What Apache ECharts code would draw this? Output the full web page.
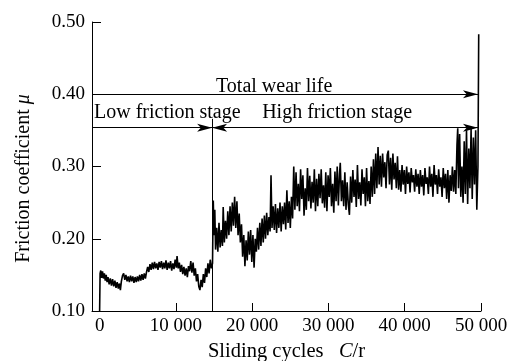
<!DOCTYPE html>
<html>
<head>
<meta charset="utf-8">
<script src="https://cdn.jsdelivr.net/npm/echarts@6/dist/echarts.min.js"></script>
<style>
  html, body { margin: 0; padding: 0; background: #fff; }
  #chart { width: 514px; height: 361px; }
</style>
</head>
<body>
<div id="chart"></div>
<script>
// Friction coefficient trace, [sliding cycles, mu], low friction stage
const lowStageTrace = [
  [0,0.100],[60,0.152],[150,0.156],[260,0.146],[380,0.155],[500,0.145],[620,0.152],[740,0.142],[860,0.150],[980,0.140],
  [1100,0.147],[1250,0.137],[1400,0.145],[1550,0.135],[1700,0.144],[1850,0.134],[2000,0.142],[2150,0.132],[2300,0.140],[2450,0.131],[2600,0.138],[2720,0.129],[2850,0.141],
  [3000,0.149],[3150,0.152],[3300,0.143],[3450,0.150],[3600,0.141],[3750,0.148],[3900,0.140],[4050,0.149],[4200,0.141],[4350,0.148],[4500,0.139],[4650,0.147],[4800,0.140],[4950,0.148],[5100,0.141],[5250,0.150],[5400,0.142],[5550,0.151],[5700,0.143],[5850,0.152],[6000,0.145],
  [6150,0.154],[6300,0.161],[6450,0.154],[6600,0.165],[6750,0.157],
  [6900,0.167],[7050,0.158],[7200,0.168],[7350,0.159],[7500,0.166],[7650,0.157],[7800,0.168],[7950,0.160],[8100,0.169],[8250,0.158],[8400,0.167],[8550,0.159],[8700,0.170],[8850,0.157],[9000,0.167],[9150,0.159],[9300,0.169],[9450,0.156],[9600,0.166],[9750,0.158],[9900,0.171],[10050,0.160],[10150,0.176],[10300,0.159],[10450,0.167],
  [10600,0.154],[10750,0.164],[10900,0.151],[11050,0.161],[11200,0.149],[11350,0.159],[11500,0.147],[11650,0.162],
  [11800,0.155],[11950,0.169],[12100,0.153],[12250,0.167],[12400,0.149],
  [12550,0.159],[12700,0.141],[12850,0.151],[13000,0.134],[13150,0.129],[13300,0.143],[13450,0.133],[13600,0.151],[13750,0.139],
  [13900,0.159],[14050,0.147],[14200,0.166],[14350,0.152],[14500,0.171],[14650,0.159]
];

// Friction coefficient trace, [sliding cycles, mu], high friction stage
const highStageTrace = [
  [14800,0.166],[14900,0.253],[15000,0.205],[15100,0.240],[15200,0.185],
  [15350,0.215],[15500,0.182],[15650,0.222],[15800,0.188],[15950,0.212],[16100,0.190],[16200,0.244],[16350,0.195],[16500,0.225],
  [16650,0.200],[16800,0.238],[16950,0.205],[17100,0.245],[17250,0.210],[17400,0.250],[17550,0.218],[17700,0.258],[17850,0.215],[18000,0.252],[18150,0.205],[18300,0.235],
  [18450,0.195],[18600,0.220],[18750,0.175],[18900,0.205],[19050,0.162],[19200,0.198],[19350,0.170],[19500,0.210],[19650,0.178],[19800,0.212],[19950,0.168],[20100,0.205],[20250,0.160],[20400,0.200],
  [20550,0.182],[20700,0.215],[20850,0.185],[21000,0.222],[21150,0.190],[21300,0.228],[21450,0.195],[21600,0.232],[21750,0.200],[21900,0.236],[22050,0.205],[22200,0.230],
  [22350,0.210],[22470,0.288],[22600,0.215],
  [22750,0.245],[22900,0.212],[23050,0.248],[23200,0.208],[23350,0.242],[23500,0.215],[23650,0.250],[23800,0.210],[23950,0.245],[24100,0.220],[24250,0.250],[24400,0.213],[24550,0.267],[24700,0.222],[24850,0.252],
  [25000,0.215],[25150,0.258],[25300,0.228],[25450,0.300],[25600,0.240],
  [25750,0.292],[25900,0.245],[26050,0.276],[26200,0.238],[26350,0.296],[26500,0.255],[26650,0.288],[26800,0.232],[26950,0.270],[27100,0.240],[27250,0.298],[27400,0.252],[27550,0.287],[27700,0.242],[27850,0.279],[28000,0.250],[28150,0.296],[28300,0.238],[28450,0.283],[28600,0.245],[28750,0.290],[28900,0.256],[29050,0.296],[29200,0.249],[29350,0.274],[29500,0.243],[29650,0.292],[29800,0.238],[29950,0.288],[30100,0.258],[30250,0.298],[30400,0.245],[30550,0.276],[30700,0.236],[30850,0.293],[31000,0.252],[31150,0.300],[31300,0.246],
  [31450,0.290],[31550,0.305],[31700,0.252],[31850,0.281],[32000,0.245],[32150,0.292],[32300,0.240],[32450,0.278],[32600,0.248],[32750,0.233],[32900,0.286],
  [33050,0.250],[33200,0.295],[33350,0.258],[33500,0.282],[33650,0.244],[33800,0.302],[33950,0.255],[34100,0.278],[34250,0.246],[34400,0.296],[34550,0.262],[34700,0.285],[34850,0.245],[35000,0.298],[35150,0.252],[35300,0.280],[35450,0.248],
  [35600,0.300],[35750,0.258],[35900,0.310],[36050,0.262],[36200,0.318],[36350,0.270],[36500,0.327],[36650,0.275],
  [36800,0.315],[36950,0.272],[37100,0.318],[37250,0.285],[37400,0.306],[37550,0.270],[37700,0.316],[37850,0.322],[38000,0.275],[38150,0.312],[38300,0.268],[38450,0.318],[38600,0.282],[38750,0.305],[38900,0.270],[39050,0.314],[39200,0.268],[39350,0.295],
  [39500,0.265],[39650,0.302],[39800,0.275],[39950,0.295],[40100,0.262],[40250,0.300],[40400,0.276],[40550,0.292],[40700,0.264],[40850,0.298],[41000,0.278],[41150,0.288],[41300,0.265],[41450,0.296],[41600,0.272],[41750,0.290],[41900,0.262],
  [42050,0.295],[42200,0.272],[42350,0.288],[42500,0.260],[42650,0.298],[42800,0.276],[42950,0.285],[43100,0.262],[43250,0.300],[43400,0.272],[43550,0.290],[43700,0.258],[43850,0.302],[44000,0.275],[44150,0.288],[44300,0.262],[44450,0.296],[44600,0.272],[44750,0.285],[44900,0.258],[45050,0.298],[45200,0.270],[45350,0.290],[45500,0.255],[45650,0.295],[45800,0.250],[45950,0.288],[46100,0.266],[46250,0.300],[46400,0.265],
  [46550,0.295],[46700,0.262],[46850,0.330],[46950,0.353],[47050,0.270],[47200,0.345],[47350,0.258],[47500,0.300],[47650,0.250],[47800,0.335],[47950,0.262],[48100,0.350],[48250,0.248],[48400,0.325],[48550,0.270],[48700,0.352],[48850,0.255],[49000,0.340],[49150,0.275],[49300,0.350],[49450,0.240],[49600,0.300],[49700,0.483]
];

// Axis ranges and tick values
const xRange = [-1000, 50000];
const xTickValues = [10000, 20000, 30000, 40000, 50000];
const xLabelValues = [0, 10000, 20000, 30000, 40000, 50000];
const yRange = [0.10, 0.50];
const yStep = 0.10;

// Stage annotations (cycles / mu)
const stageBoundary = 14750;
const wearLifeEnd = 49600;
const totalLifeLevel = 0.40;
const stageLevel = 0.3537;
const boundaryTop = 0.366;

const FONT = '"Liberation Serif", "Times New Roman", serif';
const chart = echarts.init(document.getElementById('chart'), null, { renderer: 'canvas' });

const arrowEnd = { symbol: 'arrow', symbolSize: [6, 15] };

chart.setOption({
  animation: false,
  backgroundColor: '#ffffff',
  grid: { left: 92, right: 33, top: 22, bottom: 50, outerBoundsMode: 'none', containLabel: false },
  textStyle: { fontFamily: FONT, color: '#000' },
  xAxis: {
    type: 'value',
    min: xRange[0],
    max: xRange[1],
    name: 'Sliding cycles   {i|C}/r',
    nameLocation: 'middle',
    nameGap: 29,
    nameTextStyle: {
      fontFamily: FONT, fontSize: 20.5, color: '#000',
      rich: { i: { fontFamily: FONT, fontSize: 20.5, fontStyle: 'italic', color: '#000' } }
    },
    axisLine: { show: true, onZero: false, lineStyle: { color: '#000', width: 1 } },
    axisTick: { show: true, inside: true, length: 8, customValues: xTickValues, lineStyle: { color: '#000' } },
    axisLabel: {
      customValues: xLabelValues,
      margin: 6,
      fontFamily: FONT, fontSize: 19, color: '#000',
      formatter: v => v === 0 ? '0' : (v / 1000) + ' 000'
    },
    splitLine: { show: false }
  },
  yAxis: {
    type: 'value',
    min: yRange[0],
    max: yRange[1],
    interval: yStep,
    name: 'Friction coefficient {i|μ}',
    nameLocation: 'middle',
    nameGap: 58,
    nameRotate: 90,
    nameTextStyle: {
      fontFamily: FONT, fontSize: 20, color: '#000',
      padding: [0, 24, 0, 0],
      rich: { i: { fontFamily: FONT, fontSize: 20, fontStyle: 'italic', color: '#000' } }
    },
    axisLine: { show: true, onZero: false, lineStyle: { color: '#000', width: 1 } },
    axisTick: { show: true, inside: true, length: 9, lineStyle: { color: '#000' } },
    axisLabel: {
      margin: 7,
      fontFamily: FONT, fontSize: 19, color: '#000',
      formatter: v => v.toFixed(2)
    },
    splitLine: { show: false }
  },
  series: [{
    type: 'line',
    data: lowStageTrace.concat(highStageTrace),
    symbol: 'none',
    lineStyle: { color: '#000', width: 1.6 },
    markLine: {
      silent: true,
      animation: false,
      lineStyle: { color: '#000', width: 1, type: 'solid' },
      label: { fontFamily: FONT, fontSize: 20, color: '#000' },
      data: [
        [
          { coord: [xRange[0], totalLifeLevel], symbol: 'none',
            label: { show: true, formatter: 'Total wear life', position: 'insideStartTop', distance: [124, -2] } },
          Object.assign({ coord: [wearLifeEnd, totalLifeLevel] }, arrowEnd)
        ],
        [
          { coord: [xRange[0], stageLevel], symbol: 'none',
            label: { show: true, formatter: 'Low friction stage', position: 'insideStartTop', distance: [2, 5] } },
          Object.assign({ coord: [stageBoundary, stageLevel] }, arrowEnd)
        ],
        [
          Object.assign({ coord: [stageBoundary, stageLevel],
            label: { show: true, formatter: 'High friction stage', position: 'insideStartTop', distance: [50, 5] } }, arrowEnd),
          Object.assign({ coord: [wearLifeEnd, stageLevel] }, arrowEnd)
        ],
        [
          { coord: [stageBoundary, yRange[0]], symbol: 'none', label: { show: false } },
          { coord: [stageBoundary, boundaryTop], symbol: 'none' }
        ]
      ]
    }
  }]
});
</script>
</body>
</html>
